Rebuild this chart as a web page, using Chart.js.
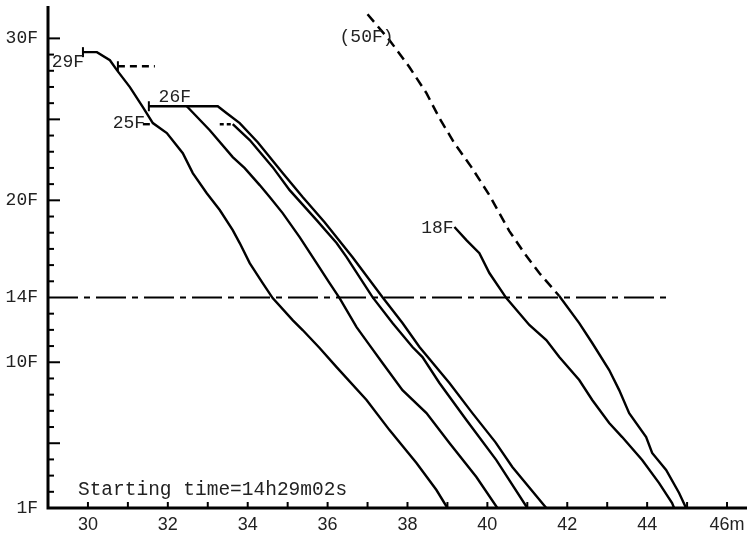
<!DOCTYPE html>
<html><head><meta charset="utf-8">
<script src="https://cdn.jsdelivr.net/npm/chart.js@4.4.1/dist/chart.umd.min.js"></script>
<style>html,body{margin:0;padding:0;background:#fff;}canvas{display:block;}</style>
</head><body>
<canvas id="c" width="747" height="539"></canvas>
<script>
// ---- axes ----
const xMin = 29, xMax = 46.5;
const yMin = 1, yMax = 32;
const xTickValues = [30, 32, 34, 36, 38, 40, 42, 44, 46];
const xTickLabels = ['30', '32', '34', '36', '38', '40', '42', '44', '46m'];
const yTickValues = [1, 10, 14, 20, 30];
const yTickLabels = ['1F', '10F', '14F', '20F', '30F'];
const xMinorTicks = [30,31,32,33,34,35,36,37,38,39,40,41,42,43,44,45,46];
const yMinorTicks = [2,3,4,5,6,7,8,9,10,11,12,13,15,16,17,18,19,20,21,22,23,24,25,26,27,28,29,30];
const yLongTicks = [5, 10, 20, 25, 30];

// ---- series: [minute, floor] ----
const curve29F = [[29.875,29.15],[30.225,29.15],[30.55,28.65],[30.725,28.04],[31.05,26.99],[31.375,25.75],[31.625,24.77],[31.975,24.15],[32.375,22.91],[32.625,21.68],[32.975,20.44],[33.3,19.40],[33.625,18.16],[33.8,17.36],[34.05,16.12],[34.375,14.89],[34.625,13.96],[35.125,12.60],[35.375,11.99],[35.8,10.88],[36.225,9.70],[36.975,7.67],[37.55,5.81],[38.225,3.78],[38.725,2.11],[39.0,1.0]];
const curve26Fa = [[32.475,25.81],[33.05,24.33],[33.625,22.67],[33.925,21.99],[34.3,20.94],[34.55,20.20],[34.875,19.21],[35.3,17.73],[35.725,16.12],[36.05,14.89],[36.3,13.96],[36.725,12.17],[37.05,11.06],[37.375,9.95],[37.875,8.28],[38.475,6.86],[39.05,5.01],[39.725,2.91],[40.25,1.0]];
const curve26Fb = [[31.525,25.81],[33.25,25.81],[33.475,25.38],[33.8,24.77],[34.25,23.59],[34.875,21.68],[35.375,20.20],[35.925,18.65],[36.625,16.49],[37.375,14.02],[37.875,12.42],[38.3,10.94],[39.05,8.72],[39.625,6.86],[40.2,5.07],[40.625,3.53],[41.475,1.0]];
const wait25F = [[33.3,24.70],[33.625,24.70]];
const curve25F = [[33.625,24.70],[34.05,23.72],[34.625,22.05],[35.05,20.63],[35.725,18.78],[36.225,17.36],[36.475,16.49],[37.125,14.02],[37.625,12.42],[38.125,10.94],[38.375,10.32],[38.8,8.72],[39.475,6.43],[40.225,3.96],[41.0,1.0]];
const curve18F = [[39.175,18.35],[39.475,17.54],[39.8,16.74],[40.05,15.51],[40.475,13.96],[41.05,12.30],[41.475,11.37],[41.8,10.32],[42.3,8.90],[42.625,7.67],[43.05,6.25],[43.375,5.38],[43.875,3.96],[44.3,2.54],[44.625,1.31],[44.675,1.0]];
const curve50Fupper = [[37.0,31.49],[37.55,29.89],[38.05,28.22],[38.475,26.62],[38.8,25.07],[39.175,23.53],[39.6,22.05],[40.05,20.32],[40.55,18.10],[40.925,16.74],[41.3,15.51],[41.8,14.09]];
const curve50Flower = [[41.8,14.09],[42.3,12.42],[42.625,11.19],[43.05,9.52],[43.3,8.28],[43.55,6.86],[43.975,5.38],[44.125,4.40],[44.475,3.35],[44.8,1.93],[44.975,1.0]];
const wait28F = [[30.75,28.28],[31.675,28.28]];
const mark25F = [[31.375,24.70],[31.55,24.70]];
const floor14Line = [[29.0,14],[44.5,14]];
const startMarks = [[29.875,29.15],[31.525,25.81],[30.75,28.28]];

// ---- annotation texts ----
const noteTexts = ['29F', '26F', '25F', '18F', '(50F)', 'Starting time=14h29m02s'];
const noteX = [29.5, 32.175, 31.025, 38.75, 36.975, 29.75];
const noteY = [28.53, 26.37, 24.77, 18.28, 30.07, 2.11];
const noteAlign = ['center','center','center','center','center','left'];
const noteSize = [18, 18, 18, 18, 18, 19.5];

const toPts = arr => arr.map(p => ({x: p[0], y: p[1]}));
function ds(arr, opts) {
  return Object.assign({data: toPts(arr), showLine: true, borderColor: '#000', borderWidth: 2.4,
    pointRadius: 0, tension: 0, fill: false}, opts || {});
}

const deco = {
  id: 'deco',
  afterDatasetsDraw(chart) {
    const {ctx, chartArea: a, scales: {x, y}} = chart;
    ctx.save();
    ctx.strokeStyle = '#000';
    ctx.lineWidth = 3;
    ctx.beginPath();
    ctx.moveTo(a.left, a.top);
    ctx.lineTo(a.left, a.bottom);
    ctx.lineTo(a.right, a.bottom);
    ctx.stroke();
    ctx.lineWidth = 2;
    yMinorTicks.forEach(v => {
      const py = y.getPixelForValue(v);
      const len = yLongTicks.includes(v) ? 12 : 6;
      ctx.beginPath(); ctx.moveTo(a.left, py); ctx.lineTo(a.left + len, py); ctx.stroke();
    });
    xMinorTicks.forEach(v => {
      const px = x.getPixelForValue(v);
      ctx.beginPath(); ctx.moveTo(px, a.bottom); ctx.lineTo(px, a.bottom - 6); ctx.stroke();
    });
    startMarks.forEach(p => {
      const px = x.getPixelForValue(p[0]), py = y.getPixelForValue(p[1]);
      ctx.beginPath(); ctx.moveTo(px, py - 5); ctx.lineTo(px, py + 5); ctx.stroke();
    });
    ctx.fillStyle = '#222';
    ctx.textBaseline = 'middle';
    noteTexts.forEach((t, i) => {
      ctx.font = noteSize[i] + 'px "Liberation Mono"';
      ctx.textAlign = noteAlign[i];
      ctx.fillText(t, x.getPixelForValue(noteX[i]), y.getPixelForValue(noteY[i]));
    });
    ctx.restore();
  }
};

function noPad(scale) {
  scale.paddingLeft = 0; scale.paddingRight = 0; scale.paddingTop = 0; scale.paddingBottom = 0;
}

new Chart(document.getElementById('c'), {
  type: 'scatter',
  data: {
    datasets: [
      ds(curve29F), ds(curve26Fa), ds(curve26Fb), ds(curve25F),
      ds(wait25F, {borderDash: [4, 3]}),
      ds(curve18F),
      ds(curve50Fupper, {borderDash: [10, 6], borderWidth: 2.5}),
      ds(curve50Flower),
      ds(wait28F, {borderDash: [7, 5]}),
      ds(mark25F),
      ds(floor14Line, {borderDash: [30, 6, 6, 6], borderWidth: 2})
    ]
  },
  options: {
    responsive: false,
    animation: false,
    devicePixelRatio: 1,
    layout: {padding: {top: 6, left: 0, right: 0, bottom: 0}},
    plugins: {legend: {display: false}, tooltip: {enabled: false}},
    scales: {
      x: {
        type: 'linear', min: xMin, max: xMax,
        grid: {display: false, drawTicks: false},
        border: {display: false},
        afterBuildTicks: s => { s.ticks = xTickValues.map(v => ({value: v})); },
        afterFit: s => { s.height = 31; noPad(s); },
        ticks: {
          autoSkip: false, maxRotation: 0, padding: 6, color: '#222',
          font: {family: '"Liberation Sans", Arial, sans-serif', size: 18},
          callback: v => { const i = xTickValues.indexOf(v); return i >= 0 ? xTickLabels[i] : ''; }
        }
      },
      y: {
        type: 'linear', min: yMin, max: yMax,
        grid: {display: false, drawTicks: false},
        border: {display: false},
        afterBuildTicks: s => { s.ticks = yTickValues.map(v => ({value: v})); },
        afterFit: s => { s.width = 48; noPad(s); },
        ticks: {
          autoSkip: false, padding: 10, color: '#222',
          font: {family: '"Liberation Mono", "Courier New", monospace', size: 18},
          callback: v => { const i = yTickValues.indexOf(v); return i >= 0 ? yTickLabels[i] : ''; }
        }
      }
    }
  },
  plugins: [deco]
});
</script>
</body></html>
